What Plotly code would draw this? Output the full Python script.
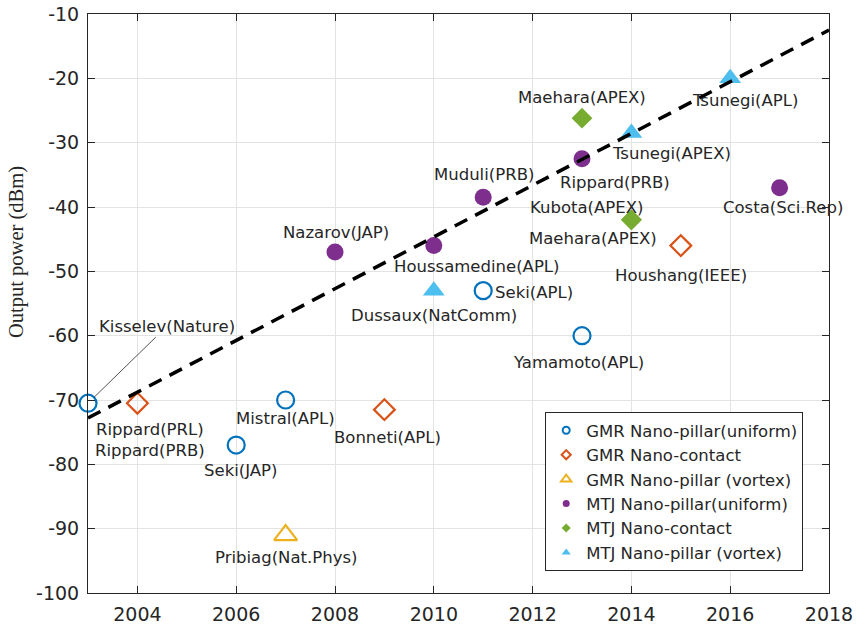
import plotly.graph_objects as go

# ---------------- data ----------------
gmr_pillar_years = [2003, 2006, 2007, 2011, 2013]
gmr_pillar_power = [-70.5, -77, -70, -53, -60]
gmr_pillar_labels = ["Kisselev(Nature)", "Seki(JAP)", "Mistral(APL)", "Seki(APL)", "Yamamoto(APL)"]

gmr_contact_years = [2004, 2009, 2015]
gmr_contact_power = [-70.5, -71.5, -46]
gmr_contact_labels = ["Rippard(PRL)<br>Rippard(PRB)", "Bonneti(APL)", "Houshang(IEEE)"]

gmr_vortex_years = [2007]
gmr_vortex_power = [-91]
gmr_vortex_labels = ["Pribiag(Nat.Phys)"]

mtj_pillar_years = [2008, 2010, 2011, 2013, 2017]
mtj_pillar_power = [-47, -46, -38.5, -32.5, -37]
mtj_pillar_labels = ["Nazarov(JAP)", "Houssamedine(APL)", "Muduli(PRB)", "Rippard(PRB)", "Costa(Sci.Rep)"]

mtj_contact_years = [2013, 2014, 2014]
mtj_contact_power = [-26.2, -42, -42]
mtj_contact_labels = ["Maehara(APEX)", "Kubota(APEX)", "Maehara(APEX)"]

mtj_vortex_years = [2010, 2014, 2016]
mtj_vortex_power = [-53, -28.5, -20]
mtj_vortex_labels = ["Dussaux(NatComm)", "Tsunegi(APEX)", "Tsunegi(APL)"]

fit_years = [2003, 2018]
fit_power = [-72.8, -12.5]

x_ticks = [2004, 2006, 2008, 2010, 2012, 2014, 2016, 2018]
y_ticks = [-100, -90, -80, -70, -60, -50, -40, -30, -20, -10]
y_tick_labels = ["-100", "-90", "-80", "-70", "-60", "-50", "-40", "-30", "-20", "-10"]

legend_names = ["GMR Nano-pillar(uniform)", "GMR Nano-contact", "GMR Nano-pillar (vortex)",
                "MTJ Nano-pillar(uniform)", "MTJ Nano-contact", "MTJ Nano-pillar (vortex)"]

# ---------------- styles ----------------
C_BLUE, C_ORANGE, C_YELLOW = "#0072BD", "#D95319", "#EDB120"
C_PURPLE, C_GREEN, C_CYAN = "#7E2F8E", "#77AC30", "#4DBEEE"
TXT = "#262626"
FONT = "DejaVu Sans"
LBL = 16.5

series = [
    (gmr_pillar_years, gmr_pillar_power, gmr_pillar_labels,
     dict(symbol="circle-open", size=17, color=C_BLUE, line=dict(width=2.2, color=C_BLUE)),
     dict(symbol="circle-open", size=7, color=C_BLUE, line=dict(width=2, color=C_BLUE)),
     [None, (4, 25), (0, 18), (51, 2), (-4, 27)]),
    (gmr_contact_years, gmr_contact_power, gmr_contact_labels,
     dict(symbol="diamond-open", size=16, color=C_ORANGE, line=dict(width=2.2, color=C_ORANGE)),
     dict(symbol="diamond-open", size=7, color=C_ORANGE, line=dict(width=2, color=C_ORANGE)),
     [(13, 37), (3, 28), (0, 30)]),
    (gmr_vortex_years, gmr_vortex_power, gmr_vortex_labels,
     dict(symbol="triangle-up-open", size=20, color=C_YELLOW, line=dict(width=2.2, color=C_YELLOW)),
     dict(symbol="triangle-up-open", size=9, color=C_YELLOW, line=dict(width=2, color=C_YELLOW)),
     [(0, 22)]),
    (mtj_pillar_years, mtj_pillar_power, mtj_pillar_labels,
     dict(symbol="circle", size=17, color=C_PURPLE, line=dict(width=0)),
     dict(symbol="circle", size=7, color=C_PURPLE, line=dict(width=0)),
     [(1, -19.5), (43, 21), (1, -23), (32.5, 24), (3, 20)]),
    (mtj_contact_years, mtj_contact_power, mtj_contact_labels,
     dict(symbol="diamond", size=16, color=C_GREEN, line=dict(width=0)),
     dict(symbol="diamond", size=7, color=C_GREEN, line=dict(width=0)),
     [(0, -21), (-45, -12), (-38, 19)]),
    (mtj_vortex_years, mtj_vortex_power, mtj_vortex_labels,
     dict(symbol="triangle-up", size=19, color=C_CYAN, line=dict(width=0)),
     dict(symbol="triangle-up", size=8, color=C_CYAN, line=dict(width=0)),
     [(0, 25), (40, 20), (14.5, 22)]),
]

fig = go.Figure()
annotations = []

for (xs, ys, labels, mk, lmk, offs), name in zip(series, legend_names):
    fig.add_trace(go.Scatter(x=xs, y=ys, mode="markers", marker=mk, showlegend=False,
                             cliponaxis=False, hoverinfo="x+y"))
    for xv, yv, lab, off in zip(xs, ys, labels, offs):
        if off is None:
            # Kisselev label with leader line
            annotations.append(dict(x=xv, y=yv, xref="x", yref="y", text=lab, showarrow=True,
                                    ax=79, ay=-77, arrowhead=0, arrowwidth=0.8, arrowcolor=TXT,
                                    standoff=8, font=dict(family=FONT, size=LBL, color=TXT)))
        else:
            annotations.append(dict(x=xv, y=yv, xref="x", yref="y", text=lab, showarrow=False,
                                    xshift=off[0], yshift=-off[1],
                                    font=dict(family=FONT, size=LBL, color=TXT)))

# fit line (on top of markers)
fig.add_trace(go.Scatter(x=fit_years, y=fit_power, mode="lines",
                         line=dict(color="black", width=3.5, dash="14px,9px"),
                         showlegend=False, hoverinfo="skip", cliponaxis=False))

# legend-only traces
for (xs, ys, labels, mk, lmk, offs), name in zip(series, legend_names):
    fig.add_trace(go.Scatter(x=[None], y=[None], mode="markers", marker=lmk, name=name))

annotations.append(dict(x=-0.0958, y=0.589, xref="paper", yref="paper", text="Output power (dBm)",
                        textangle=-90, showarrow=False, xanchor="center", yanchor="middle",
                        font=dict(family="Liberation Serif", size=20.5, color=TXT)))

axis_common = dict(showline=True, linecolor=TXT, linewidth=1, mirror="ticks",
                   ticks="inside", ticklen=7, tickcolor=TXT, showgrid=True,
                   gridcolor="#e3e3e3", gridwidth=1, zeroline=False, automargin=False,
                   tickfont=dict(family=FONT, size=19, color=TXT))

fig.update_layout(
    width=864, height=626,
    margin=dict(l=88, r=35, t=14, b=33, autoexpand=False),
    paper_bgcolor="white", plot_bgcolor="white",
    xaxis=dict(range=[2003, 2018], tickvals=x_ticks, ticklabelstandoff=4, **axis_common),
    yaxis=dict(range=[-100, -10], tickvals=y_ticks, ticktext=y_tick_labels,
               ticklabelstandoff=4, **axis_common),
    legend=dict(x=0.617, y=0.3126, xanchor="left", yanchor="top",
                bgcolor="white", bordercolor=TXT, borderwidth=1,
                font=dict(family=FONT, size=16.5, color=TXT), itemwidth=30),
    annotations=annotations,
    showlegend=True,
)

fig.write_html("out.html", config={"displayModeBar": False},
               post_script="document.body.style.margin='0px';document.body.style.overflow='hidden';")
